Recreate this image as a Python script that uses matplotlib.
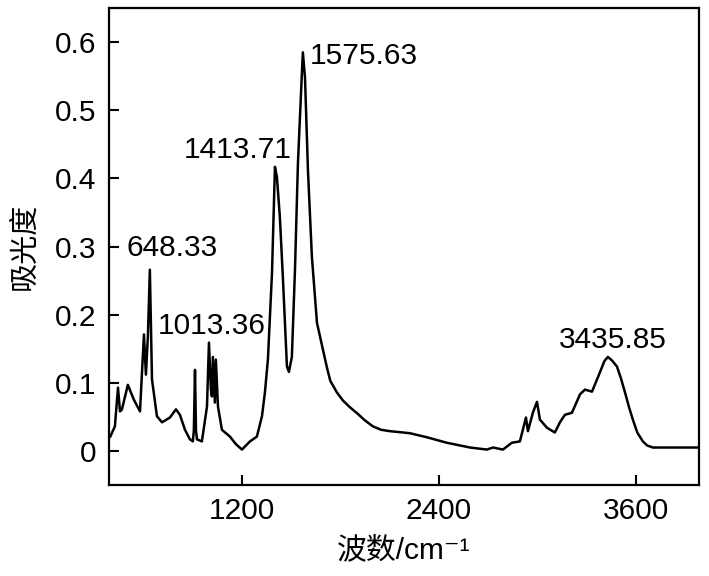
import matplotlib
matplotlib.use("Agg")
import matplotlib.pyplot as plt

plt.rcParams['font.family'] = ['Liberation Sans', 'Noto Sans CJK SC', 'DejaVu Sans']

# IR spectrum
wavenumber = [400, 428, 447, 459, 471, 507, 544, 581, 605, 617, 629, 641, 654, 684,
              715, 763, 800, 824, 855, 885, 903, 909, 916, 922, 928, 958, 989, 1001,
              1013, 1019, 1025, 1037, 1043, 1056, 1080, 1129, 1165, 1202, 1251, 1293,
              1324, 1342, 1360, 1385, 1403, 1415, 1433, 1452, 1476, 1488, 1506, 1525,
              1543, 1567, 1573, 1586, 1604, 1628, 1659, 1695, 1720, 1740, 1780, 1817,
              1860, 1905, 1950, 2000, 2050, 2103, 2225, 2329, 2450, 2591, 2694, 2731,
              2792, 2846, 2895, 2913, 2932, 2944, 2974, 2999, 3017, 3060, 3108, 3139,
              3169, 3212, 3261, 3291, 3334, 3382, 3410, 3431, 3455, 3486, 3510, 3535,
              3560, 3583, 3610, 3644, 3670, 3705, 3791, 3985]
absorbance = [0.021, 0.036, 0.093, 0.058, 0.061, 0.097, 0.075, 0.058, 0.171, 0.112,
              0.168, 0.266, 0.105, 0.051, 0.042, 0.049, 0.061, 0.053, 0.031, 0.017,
              0.014, 0.030, 0.119, 0.030, 0.017, 0.014, 0.065, 0.159, 0.090, 0.080,
              0.138, 0.071, 0.134, 0.065, 0.031, 0.021, 0.010, 0.002, 0.014, 0.021,
              0.051, 0.086, 0.134, 0.261, 0.417, 0.402, 0.343, 0.251, 0.124, 0.116,
              0.138, 0.266, 0.422, 0.554, 0.585, 0.548, 0.412, 0.285, 0.188, 0.149,
              0.122, 0.103, 0.086, 0.074, 0.064, 0.055, 0.045, 0.036, 0.031, 0.029,
              0.026, 0.020, 0.012, 0.005, 0.002, 0.005, 0.002, 0.012, 0.014, 0.031,
              0.049, 0.029, 0.056, 0.072, 0.046, 0.034, 0.027, 0.042, 0.053, 0.056,
              0.083, 0.090, 0.087, 0.115, 0.132, 0.138, 0.133, 0.124, 0.107, 0.086,
              0.064, 0.046, 0.027, 0.014, 0.008, 0.005, 0.005, 0.005]

# peak labels: text, x centre, y centre
peak_labels = ['1575.63', '1413.71', '648.33', '1013.36', '3435.85']
label_x = [1945, 1174, 779, 1016, 3459]
label_y = [0.580, 0.441, 0.298, 0.184, 0.163]

fig = plt.figure(figsize=(7.09, 5.76), dpi=100)
ax = fig.add_axes([0.1537, 0.158, 0.8322, 0.828])

ax.plot(wavenumber, absorbance, color='black', lw=1.8)

for t, x, y in zip(peak_labels, label_x, label_y):
    ax.text(x, y, t, ha='center', va='center', fontsize=21.5)

ax.set_xlim(392, 3986)
ax.set_ylim(-0.05, 0.65)
ax.set_xticks([1200, 2400, 3600])
ax.set_yticks([0, 0.1, 0.2, 0.3, 0.4, 0.5, 0.6])
ax.set_yticklabels(['0', '0.1', '0.2', '0.3', '0.4', '0.5', '0.6'])
ax.tick_params(direction='in', length=7, width=1.5, labelsize=21.5, pad=9)
for s in ax.spines.values():
    s.set_linewidth(1.6)

ax.set_xlabel('波数/cm⁻¹', fontsize=21.5, labelpad=8)
ax.set_ylabel('吸光度', fontsize=21, labelpad=12)

fig.savefig('out.png', dpi=100)
